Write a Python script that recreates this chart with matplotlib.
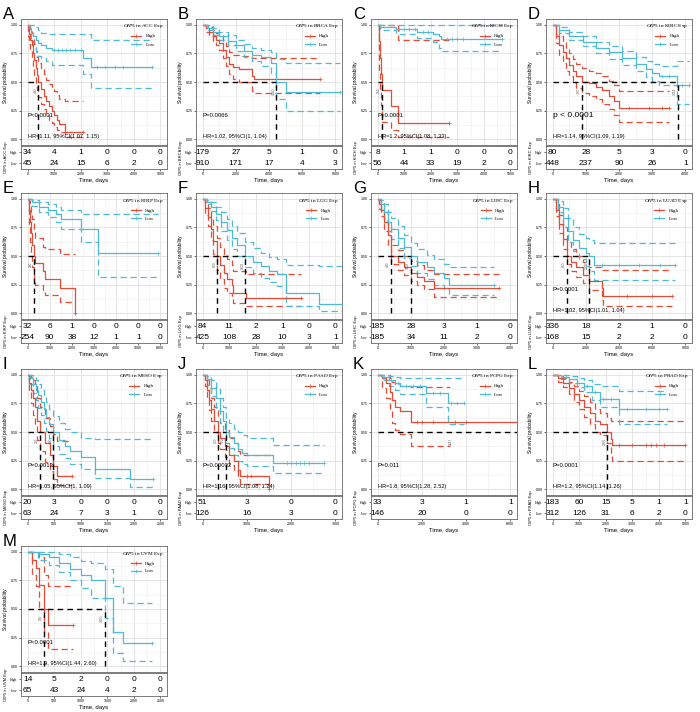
import numpy as np
import matplotlib
matplotlib.use('Agg')
import matplotlib.pyplot as plt
from matplotlib.lines import Line2D
from matplotlib.ticker import MultipleLocator

plt.rcParams['font.family'] = ['Liberation Sans', 'DejaVu Sans']
plt.rcParams['mathtext.fontset'] = 'custom'
plt.rcParams['mathtext.it'] = 'Liberation Serif:italic'
plt.rcParams['mathtext.rm'] = 'Liberation Serif'

RED = '#E64B35'
BLUE = '#4DBBD5'

# ---------------- A: ACC ----------------
acc_hi_t = [0, 30, 60, 100, 150, 200, 250, 300, 350, 400, 500, 600, 700, 800, 900, 1000, 1100, 1200, 1400, 2100]
acc_hi_s = [1, .97, .92, .87, .82, .75, .69, .62, .56, .50, .44, .38, .33, .29, .25, .21, .17, .13, .06, .06]
acc_hi_up = [1, 1, .99, .96, .93, .88, .83, .77, .72, .67, .62, .57, .52, .48, .45, .42, .39, .35, .33, .33]
acc_hi_lo = [1, .9, .83, .77, .7, .63, .56, .49, .43, .37, .31, .26, .21, .17, .14, .11, .08, .06, .02, .02]
acc_lo_t = [0, 60, 120, 200, 300, 400, 500, 700, 900, 2100, 2400, 4700]
acc_lo_s = [1, .97, .93, .9, .87, .84, .82, .80, .775, .71, .63, .63]
acc_lo_up = [1, 1, 1, 1, .98, .95, .93, .92, .92, .92, .87, .87]
acc_lo_lo = [1, .92, .86, .81, .76, .73, .71, .68, .65, .57, .45, .45]
acc_med = [400]
acc_risk_hi = [34, 4, 1, 0, 0, 0]
acc_risk_lo = [45, 24, 15, 6, 2, 0]

# ---------------- B: BRCA ----------------
brca_hi_t = [0, 200, 400, 600, 800, 1000, 1200, 1400, 1600, 1800, 2200, 3000, 3100, 7100]
brca_hi_s = [1, .97, .94, .9, .87, .84, .78, .72, .66, .63, .61, .55, .53, .53]
brca_hi_up = [1, 1, .98, .95, .93, .91, .86, .81, .76, .74, .73, .71, .71, .71]
brca_hi_lo = [1, .94, .9, .86, .82, .78, .71, .64, .57, .53, .5, .42, .4, .4]
brca_lo_t = [0, 300, 600, 1000, 1500, 2000, 2500, 3000, 3500, 4100, 4400, 5000, 8300]
brca_lo_s = [1, .97, .94, .9, .86, .82, .77, .74, .72, .67, .5, .41, .41]
brca_lo_up = [1, .99, .97, .94, .91, .87, .83, .8, .78, .76, .7, .67, .67]
brca_lo_lo = [1, .95, .91, .87, .82, .77, .72, .68, .64, .58, .35, .25, .25]
brca_med = [4440]
brca_risk_hi = [179, 27, 5, 1, 0]
brca_risk_lo = [910, 171, 17, 4, 3]

# ---------------- C: KICH ----------------
kich_hi_t = [0, 40, 80, 120, 180, 500, 780, 2700]
kich_hi_s = [1, .86, .71, .57, .43, .29, .14, .14]
kich_hi_up = [1, 1, 1, 1, 1, 1, .87, .87]
kich_hi_lo = [1, .6, .43, .3, .15, .08, .02, .02]
kich_lo_t = [0, 100, 700, 1500, 2100, 2300, 2400, 4700]
kich_lo_s = [1, .98, .96, .94, .92, .9, .875, .875]
kich_lo_up = [1, 1, 1, 1, 1, 1, 1, 1]
kich_lo_lo = [1, .95, .92, .88, .85, .8, .77, .77]
kich_med = [150]
kich_risk_hi = [8, 1, 1, 0, 0, 0]
kich_risk_lo = [56, 44, 33, 19, 2, 0]

# ---------------- D: KIRC ----------------
kirc_hi_t = [0, 100, 200, 300, 400, 500, 600, 700, 870, 1100, 1300, 1500, 1700, 1850, 2000, 3500]
kirc_hi_s = [1, .9, .82, .76, .71, .65, .6, .55, .5, .49, .46, .43, .38, .33, .27, .27]
kirc_hi_up = [1, .96, .9, .85, .8, .75, .7, .66, .62, .6, .58, .55, .51, .47, .42, .42]
kirc_hi_lo = [1, .84, .74, .67, .6, .55, .5, .45, .4, .38, .35, .31, .26, .21, .15, .15]
kirc_lo_t = [0, 200, 500, 900, 1300, 1700, 2100, 2500, 2800, 3000, 3200, 3760, 4100]
kirc_lo_s = [1, .95, .9, .85, .8, .76, .71, .66, .61, .58, .55, .47, .47]
kirc_lo_up = [1, .98, .94, .9, .85, .81, .77, .72, .68, .66, .64, .68, .68]
kirc_lo_lo = [1, .93, .87, .81, .75, .7, .65, .6, .54, .51, .47, .31, .31]
kirc_med = [870, 3764]
kirc_risk_hi = [80, 28, 5, 3, 0]
kirc_risk_lo = [448, 237, 90, 26, 1]

# ---------------- E: KIRP ----------------
kirp_hi_t = [0, 50, 100, 150, 200, 280, 350, 700, 800, 1450, 2150]
kirp_hi_s = [1, .9, .8, .7, .6, .5, .44, .37, .3, .22, 0]
kirp_hi_up = [1, .98, .94, .88, .82, .72, .66, .58, .56, .52, .52]
kirp_hi_lo = [1, .76, .62, .5, .4, .3, .25, .2, .16, .1, .1]
kirp_lo_t = [0, 200, 500, 900, 1300, 1500, 2400, 3200, 5900]
kirp_lo_s = [1, .97, .93, .9, .87, .82, .74, .53, .53]
kirp_lo_up = [1, .99, .97, .95, .93, .9, .87, .87, .87]
kirp_lo_lo = [1, .94, .88, .84, .8, .74, .62, .32, .32]
kirp_med = [280]
kirp_risk_hi = [32, 6, 1, 0, 0, 0, 0]
kirp_risk_lo = [254, 90, 38, 12, 1, 1, 0]

# ---------------- F: LGG ----------------
lgg_hi_t = [0, 100, 200, 300, 400, 550, 650, 800, 900, 1100, 1150, 1650, 3700]
lgg_hi_s = [1, .92, .84, .74, .63, .5, .42, .35, .3, .25, .18, .135, .135]
lgg_hi_up = [1, .97, .92, .84, .76, .66, .58, .52, .47, .42, .37, .34, .34]
lgg_hi_lo = [1, .86, .76, .64, .52, .38, .3, .22, .18, .13, .09, .06, .06]
lgg_lo_t = [0, 150, 300, 500, 700, 900, 1100, 1300, 1600, 1900, 2200, 2500, 2800, 3150, 4400, 5300]
lgg_lo_s = [1, .97, .93, .87, .8, .73, .66, .6, .5, .45, .41, .37, .34, .18, .08, .08]
lgg_lo_up = [1, .99, .97, .93, .88, .82, .76, .7, .62, .57, .53, .49, .47, .42, .41, .41]
lgg_lo_lo = [1, .95, .89, .81, .72, .64, .56, .5, .4, .35, .31, .27, .24, .06, .02, .02]
lgg_med = [550, 1600]
lgg_risk_hi = [84, 11, 2, 1, 0, 0]
lgg_risk_lo = [425, 108, 28, 10, 3, 1]

# ---------------- G: LIHC ----------------
lihc_hi_t = [0, 50, 100, 200, 300, 400, 600, 800, 1000, 1200, 1400, 1700, 3650]
lihc_hi_s = [1, .95, .9, .8, .68, .5, .45, .4, .35, .32, .28, .22, .22]
lihc_hi_up = [1, .99, .96, .88, .77, .6, .55, .5, .46, .42, .38, .34, .34]
lihc_hi_lo = [1, .91, .85, .72, .6, .43, .38, .33, .28, .25, .21, .14, .14]
lihc_lo_t = [0, 100, 200, 300, 400, 600, 800, 1000, 1200, 1500, 1700, 2000, 2150, 3500]
lihc_lo_s = [1, .95, .88, .8, .74, .66, .58, .5, .45, .4, .35, .31, .25, .25]
lihc_lo_up = [1, .99, .95, .88, .83, .76, .68, .61, .56, .51, .47, .43, .4, .4]
lihc_lo_lo = [1, .9, .81, .72, .65, .57, .48, .41, .35, .3, .25, .21, .16, .16]
lihc_med = [400, 1000]
lihc_risk_hi = [185, 28, 3, 1, 0]
lihc_risk_lo = [185, 34, 11, 2, 0]

# ---------------- H: LUAD ----------------
luad_hi_t = [0, 200, 400, 600, 850, 1100, 1400, 1800, 2200, 2950, 3050, 7200]
luad_hi_s = [1, .9, .78, .65, .5, .45, .4, .33, .28, .22, .15, .15]
luad_hi_up = [1, .95, .86, .75, .62, .56, .5, .45, .4, .38, .38, .38]
luad_hi_lo = [1, .85, .7, .56, .43, .37, .32, .26, .2, .12, .06, .06]
luad_lo_t = [0, 300, 600, 900, 1200, 1600, 2000, 2200, 2500, 7400]
luad_lo_s = [1, .93, .83, .72, .64, .57, .53, .5, .42, .42]
luad_lo_up = [1, .98, .92, .83, .75, .69, .66, .64, .61, .61]
luad_lo_lo = [1, .88, .75, .62, .54, .47, .41, .37, .29, .29]
luad_med = [850, 2200]
luad_risk_hi = [336, 18, 2, 1, 0]
luad_risk_lo = [168, 15, 2, 2, 0]

# ---------------- I: MESO ----------------
meso_hi_t = [0, 30, 60, 100, 130, 170, 230, 330, 420, 480, 560, 830]
meso_hi_s = [1, .93, .87, .8, .72, .6, .5, .4, .3, .2, .12, .12]
meso_hi_up = [1, 1, .98, .95, .9, .8, .72, .62, .55, .48, .42, .42]
meso_hi_lo = [1, .85, .75, .65, .55, .43, .33, .24, .16, .09, .04, .04]
meso_lo_t = [0, 50, 100, 150, 200, 250, 300, 350, 400, 480, 600, 700, 800, 1000, 1260, 1920, 2360]
meso_lo_s = [1, .97, .92, .87, .82, .76, .7, .63, .57, .5, .43, .38, .33, .28, .18, .09, .09]
meso_lo_up = [1, 1, .98, .95, .92, .87, .82, .76, .7, .64, .58, .53, .5, .45, .44, .44, .44]
meso_lo_lo = [1, .92, .84, .78, .71, .65, .58, .51, .45, .38, .31, .27, .22, .18, .1, .02, .02]
meso_med = [230, 480]
meso_risk_hi = [20, 3, 0, 0, 0, 0]
meso_risk_lo = [63, 24, 7, 3, 1, 0]

# ---------------- J: PAAD ----------------
paad_hi_t = [0, 50, 100, 150, 200, 250, 350, 400, 500, 600, 700, 800, 850, 1500]
paad_hi_s = [1, .95, .87, .78, .7, .6, .5, .45, .38, .3, .25, .17, .12, 0]
paad_hi_up = [1, 1, .95, .88, .8, .72, .63, .58, .52, .45, .4, .33, .3, .3]
paad_hi_lo = [1, .9, .8, .69, .6, .5, .4, .35, .28, .21, .16, .09, .05, .05]
paad_lo_t = [0, 100, 200, 300, 400, 450, 520, 600, 700, 800, 900, 1000, 1600, 2750]
paad_lo_s = [1, .96, .88, .8, .68, .6, .5, .46, .4, .35, .32, .3, .23, .23]
paad_lo_up = [1, .99, .95, .89, .8, .72, .62, .58, .53, .5, .47, .45, .39, .39]
paad_lo_lo = [1, .91, .81, .71, .58, .5, .4, .36, .3, .25, .22, .2, .14, .14]
paad_med = [350, 520]
paad_risk_hi = [51, 3, 0, 0]
paad_risk_lo = [126, 16, 3, 0]

# ---------------- K: PCPG ----------------
pcpg_hi_t = [0, 200, 400, 550, 650, 800, 1000, 1500, 6600]
pcpg_hi_s = [1, .97, .93, .85, .78, .72, .68, .59, .59]
pcpg_hi_up = [1, 1, 1, .97, .94, .92, .9, .89, .89]
pcpg_hi_lo = [1, .88, .8, .68, .58, .52, .48, .38, .38]
pcpg_lo_t = [0, 200, 500, 800, 1000, 2200, 3200, 3900]
pcpg_lo_s = [1, .98, .95, .93, .9, .84, .75, .75]
pcpg_lo_up = [1, 1, .99, .98, .97, .97, .97, .97]
pcpg_lo_lo = [1, .95, .9, .87, .83, .72, .57, .57]
pcpg_med = []
pcpg_risk_hi = [33, 3, 1, 1]
pcpg_risk_lo = [146, 20, 0, 0]

# ---------------- L: PRAD ----------------
prad_hi_t = [0, 200, 400, 600, 800, 1000, 1200, 1400, 1600, 1800, 2050, 2200, 2250, 5000]
prad_hi_s = [1, .97, .93, .88, .83, .78, .72, .67, .6, .57, .5, .44, .39, .39]
prad_hi_up = [1, .99, .97, .94, .9, .86, .81, .76, .7, .67, .62, .6, .6, .6]
prad_hi_lo = [1, .94, .89, .83, .76, .7, .63, .57, .5, .47, .4, .3, .25, .25]
prad_lo_t = [0, 300, 600, 900, 1200, 1500, 1800, 2500, 4300]
prad_lo_s = [1, .98, .96, .93, .9, .85, .79, .7, .7]
prad_lo_up = [1, 1, .99, .97, .95, .92, .9, .86, .86]
prad_lo_lo = [1, .96, .93, .89, .85, .78, .72, .57, .57]
prad_med = [2050]
prad_risk_hi = [183, 60, 15, 5, 1, 1]
prad_risk_lo = [312, 126, 31, 6, 2, 0]

# ---------------- M: UVM ----------------
uvm_hi_t = [0, 80, 150, 220, 300, 380, 850]
uvm_hi_s = [1, .93, .86, .71, .5, .36, .36]
uvm_hi_up = [1, 1, 1, .95, .8, .7, .7]
uvm_hi_lo = [1, .8, .7, .5, .3, .15, .15]
uvm_lo_t = [0, 200, 400, 600, 800, 1000, 1200, 1450, 1600, 1800, 2350]
uvm_lo_s = [1, .98, .95, .9, .85, .8, .75, .6, .3, .2, .2]
uvm_lo_up = [1, 1, 1, .98, .95, .92, .9, .85, .7, .55, .55]
uvm_lo_lo = [1, .93, .88, .82, .75, .68, .6, .42, .12, .05, .05]
uvm_med = [300, 1450]
uvm_risk_hi = [14, 5, 2, 0, 0, 0]
uvm_risk_lo = [65, 43, 24, 4, 2, 0]

panels = [
    ('A', 'ACC', 5000, 1000, (acc_hi_t, acc_hi_s, acc_hi_up, acc_hi_lo), (acc_lo_t, acc_lo_s, acc_lo_up, acc_lo_lo),
     acc_med, 'P<0.0001', 'HR=1.11, 95%CI(1.07, 1.15)', acc_risk_hi, acc_risk_lo),
    ('B', 'BRCA', 8000, 2000, (brca_hi_t, brca_hi_s, brca_hi_up, brca_hi_lo), (brca_lo_t, brca_lo_s, brca_lo_up, brca_lo_lo),
     brca_med, 'P=0.0066', 'HR=1.02, 95%CI(1, 1.04)', brca_risk_hi, brca_risk_lo),
    ('C', 'KICH', 5000, 1000, (kich_hi_t, kich_hi_s, kich_hi_up, kich_hi_lo), (kich_lo_t, kich_lo_s, kich_lo_up, kich_lo_lo),
     kich_med, 'P<0.0001', 'HR=1.2, 95%CI(1.08, 1.33)', kich_risk_hi, kich_risk_lo),
    ('D', 'KIRC', 4000, 1000, (kirc_hi_t, kirc_hi_s, kirc_hi_up, kirc_hi_lo), (kirc_lo_t, kirc_lo_s, kirc_lo_up, kirc_lo_lo),
     kirc_med, 'p < 0.0001', 'HR=1.14, 95%CI(1.09, 1.19)', kirc_risk_hi, kirc_risk_lo),
    ('E', 'KIRP', 6000, 1000, (kirp_hi_t, kirp_hi_s, kirp_hi_up, kirp_hi_lo), (kirp_lo_t, kirp_lo_s, kirp_lo_up, kirp_lo_lo),
     kirp_med, '', '', kirp_risk_hi, kirp_risk_lo),
    ('F', 'LGG', 5000, 1000, (lgg_hi_t, lgg_hi_s, lgg_hi_up, lgg_hi_lo), (lgg_lo_t, lgg_lo_s, lgg_lo_up, lgg_lo_lo),
     lgg_med, '', '', lgg_risk_hi, lgg_risk_lo),
    ('G', 'LIHC', 4000, 1000, (lihc_hi_t, lihc_hi_s, lihc_hi_up, lihc_hi_lo), (lihc_lo_t, lihc_lo_s, lihc_lo_up, lihc_lo_lo),
     lihc_med, '', '', lihc_risk_hi, lihc_risk_lo),
    ('H', 'LUAD', 8000, 2000, (luad_hi_t, luad_hi_s, luad_hi_up, luad_hi_lo), (luad_lo_t, luad_lo_s, luad_lo_up, luad_lo_lo),
     luad_med, 'P=0.0001', 'HR=1.02, 95%CI(1.01, 1.04)', luad_risk_hi, luad_risk_lo),
    ('I', 'MESO', 2500, 500, (meso_hi_t, meso_hi_s, meso_hi_up, meso_hi_lo), (meso_lo_t, meso_lo_s, meso_lo_up, meso_lo_lo),
     meso_med, 'P=0.0013', 'HR=1.05, 95%CI(1, 1.09)', meso_risk_hi, meso_risk_lo),
    ('J', 'PAAD', 3000, 1000, (paad_hi_t, paad_hi_s, paad_hi_up, paad_hi_lo), (paad_lo_t, paad_lo_s, paad_lo_up, paad_lo_lo),
     paad_med, 'P=0.00032', 'HR=1.16, 95%CI(1.08, 1.24)', paad_risk_hi, paad_risk_lo),
    ('K', 'PCPG', 6000, 2000, (pcpg_hi_t, pcpg_hi_s, pcpg_hi_up, pcpg_hi_lo), (pcpg_lo_t, pcpg_lo_s, pcpg_lo_up, pcpg_lo_lo),
     pcpg_med, 'P=0.011', 'HR=1.8, 95%CI(1.28, 2.52)', pcpg_risk_hi, pcpg_risk_lo),
    ('L', 'PRAD', 5000, 1000, (prad_hi_t, prad_hi_s, prad_hi_up, prad_hi_lo), (prad_lo_t, prad_lo_s, prad_lo_up, prad_lo_lo),
     prad_med, 'P=0.0001', 'HR=1.2, 95%CI(1.14, 1.26)', prad_risk_hi, prad_risk_lo),
    ('M', 'UVM', 2500, 500, (uvm_hi_t, uvm_hi_s, uvm_hi_up, uvm_hi_lo), (uvm_lo_t, uvm_lo_s, uvm_lo_up, uvm_lo_lo),
     uvm_med, 'P<0.0001', 'HR=1.9, 95%CI(1.44, 2.60)', uvm_risk_hi, uvm_risk_lo),
]

# where the CI dashes stop, when it is earlier than the curve
ci_stop = {('PCPG', 'hi'): 3250, ('PCPG', 'lo'): 3900}
# extra censor ticks (+)
censor = {
    ('ACC', 'lo'): [1000, 1150, 1300, 1450, 1600, 1800, 2000, 2600, 2900, 3300, 3600],
    ('KICH', 'lo'): [800, 1000, 1200, 1400, 1700, 1900, 2600, 2800, 3000, 3200],
    ('KIRC', 'hi'): [2300, 2900, 3300],
    ('KIRC', 'lo'): [3300, 3500, 3900],
    ('LUAD', 'lo'): [3000, 4000, 5200, 6500],
    ('LUAD', 'hi'): [4500, 6000],
    ('PAAD', 'lo'): [1900, 2000, 2100, 2200, 2300, 2400],
    ('PAAD', 'hi'): [1000, 1100],
    ('PCPG', 'hi'): [1800, 2000, 2500, 3500, 4000],
    ('PCPG', 'lo'): [300, 600, 900, 1300, 1600, 1900, 2500, 2800, 3300, 3600],
    ('PRAD', 'hi'): [2500, 3000, 3500, 3700, 3900, 4200],
    ('PRAD', 'lo'): [500, 900, 1300, 1600, 1900, 2200, 2800, 3500, 4000],
}

W, H = 700, 712
fig = plt.figure(figsize=(7.0, 7.12), dpi=100)
km_top = [19, 193, 369, 546]
km_h = 126
tab_h = 23
ax_w = 146


def step_val(t, s, x):
    i = np.searchsorted(t, x, side='right') - 1
    return s[max(i, 0)]


def draw_curve(ax, t, s, up, lo, color, stop, cens):
    t = np.array(t, float)
    s = np.array(s, float)
    ax.step(t, s, where='post', color=color, lw=0.9, zorder=3)
    ct = t.copy()
    cu = np.array(up, float)
    cl = np.array(lo, float)
    if stop is not None:
        keep = ct <= stop
        ct = np.append(ct[keep], stop)
        cu = np.append(cu[keep], cu[keep][-1])
        cl = np.append(cl[keep], cl[keep][-1])
    ax.step(ct, cu, where='post', color=color, lw=0.9, ls=(0, (5, 3)), zorder=2)
    ax.step(ct, cl, where='post', color=color, lw=0.9, ls=(0, (5, 3)), zorder=2)
    marks = list(cens) + [t[-1]]
    ax.plot(marks, [step_val(t, s, m) for m in marks], '+', color=color, ms=2.5, mew=0.5, zorder=3)


for k, (letter, code, xmax, xstep, hi, lo, med, ptxt, hrtxt, rhi, rlo) in enumerate(panels):
    col, row = k % 4, k // 4
    left = (21 + 175 * col) / W
    top = km_top[row]
    ax = fig.add_axes([left, 1 - (top + km_h) / H, ax_w / W, km_h / H])
    tab = fig.add_axes([left, 1 - (top + km_h + 1 + tab_h) / H, ax_w / W, tab_h / H])

    xlim = (-0.05 * xmax, 1.05 * xmax)
    ax.set_xlim(xlim)
    ax.set_ylim(-0.05, 1.05)
    ax.xaxis.set_major_locator(MultipleLocator(xstep))
    ax.xaxis.set_minor_locator(MultipleLocator(xstep / 2))
    ax.yaxis.set_major_locator(MultipleLocator(0.25))
    ax.yaxis.set_minor_locator(MultipleLocator(0.125))
    ax.grid(which='major', color='#E0E0E0', lw=0.6)
    ax.grid(which='minor', color='#EEEEEE', lw=0.4)
    ax.set_axisbelow(True)
    ax.tick_params(axis='x', labelbottom=False, length=0, which='both')
    ax.tick_params(axis='y', which='major', labelsize=2.5, length=1.5, width=0.4, pad=1)
    ax.tick_params(axis='y', which='minor', length=0)
    ax.set_yticks([0, .25, .5, .75, 1])
    ax.set_yticklabels(['0.00', '0.25', '0.50', '0.75', '1.00'])
    ax.set_ylabel('Survival probability', fontsize=3.5, labelpad=2)
    for sp in ax.spines.values():
        sp.set_color('#666666')
        sp.set_linewidth(0.6)

    draw_curve(ax, *hi, RED, ci_stop.get((code, 'hi')), censor.get((code, 'hi'), []))
    draw_curve(ax, *lo, BLUE, ci_stop.get((code, 'lo')), censor.get((code, 'lo'), []))

    if med:
        ax.plot([0, max(med)], [0.5, 0.5], color='black', lw=1.0, ls=(0, (4, 3)), zorder=4)
        for m in med:
            ax.plot([m, m], [0, 0.5], color='black', lw=1.0, ls=(0, (4, 3)), zorder=4)
            ax.text(m - 0.02 * xmax, 0.45, str(int(m)), rotation=90, fontsize=2.3,
                    color='#555555', ha='center', va='top', zorder=5)
    elif code == 'PCPG':
        ax.plot([0, 1.05 * xmax], [0.5, 0.5], color='black', lw=1.0, ls=(0, (4, 3)), zorder=4)
        ax.text(3300, 0.45, '3247', rotation=90, fontsize=2.3, color='#555555', ha='center', va='top')

    if ptxt:
        fs = 6 if code == 'KIRC' else 4.3
        ax.text(0, 0.21, ptxt, fontsize=fs, va='center', ha='left', zorder=6)
    if hrtxt:
        ax.text(0, 0.02, hrtxt, fontsize=4.1, va='center', ha='left', zorder=6)

    handles = [Line2D([], [], color=RED, marker='+', lw=0.9, ms=3, mew=0.5),
               Line2D([], [], color=BLUE, marker='+', lw=0.9, ms=3, mew=0.5)]
    leg = ax.legend(handles, ['High', 'Low'], title=r'$\it{OIP5}$ in ' + code + ' Exp',
                    loc='upper right', frameon=False, title_fontsize=3.8,
                    handlelength=2.0, borderaxespad=0.3, labelspacing=0.7,
                    prop={'family': 'Liberation Serif', 'size': 3.6})
    leg.get_title().set_fontfamily('Liberation Serif')

    # risk table
    tab.set_xlim(xlim)
    tab.set_ylim(0, 2)
    ticks = np.arange(0, xmax + 1, xstep)
    for x, a, b in zip(ticks, rhi, rlo):
        tab.text(x, 1.45, str(a), fontsize=6, ha='center', va='center')
        tab.text(x, 0.5, str(b), fontsize=6, ha='center', va='center')
    tab.set_xticks(ticks)
    tab.set_xticklabels([str(int(v)) for v in ticks], fontsize=2.6)
    tab.tick_params(axis='x', length=1.5, width=0.4, pad=1)
    tab.set_yticks([0.5, 1.45])
    tab.set_yticklabels(['Low', 'High'], fontsize=2.6, family='Liberation Serif')
    tab.tick_params(axis='y', length=1.5, width=0.4, pad=1)
    tab.set_xlabel('Time, days', fontsize=4.3, labelpad=1)
    tab.set_ylabel('OIP5 in ' + code + ' Exp', fontsize=3.0, labelpad=1.5)
    for sp in tab.spines.values():
        sp.set_color('#666666')
        sp.set_linewidth(0.6)

    fig.text((3 + 175 * col) / W, 1 - (top - 12) / H, letter, fontsize=12, ha='left', va='top')

fig.savefig('out.png', dpi=100)
